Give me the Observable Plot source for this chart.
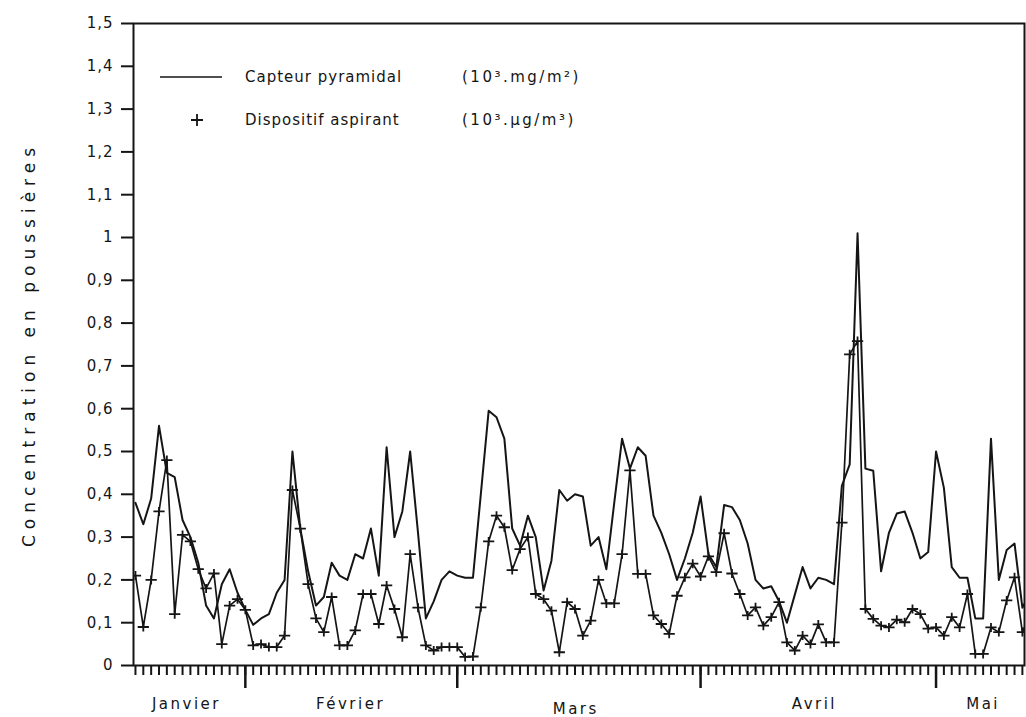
<!DOCTYPE html>
<html>
<head>
<meta charset="utf-8">
<script src="https://cdn.jsdelivr.net/npm/d3@7"></script>
<script src="https://cdn.jsdelivr.net/npm/@observablehq/plot@0.6"></script>
<style>
  body { margin: 0; background: #fff; }
  #chart svg { display: block; }
</style>
</head>
<body>
<div id="chart"></div>
<script>
// x = daily sample number (one tick per sample); 0 = first sample, mid-January.
const xDomain = [-0.25, 113.27];

// Capteur pyramidal (10^3 mg/m2)
const capteur = [
  0.38, 0.33, 0.39, 0.56, 0.45, 0.44, 0.34, 0.30, 0.24, 0.14,
  0.11, 0.19, 0.225, 0.17, 0.13, 0.095, 0.11, 0.12, 0.17, 0.20,
  0.50, 0.32, 0.22, 0.14, 0.16, 0.24, 0.21, 0.20, 0.26, 0.25,
  0.32, 0.21, 0.51, 0.30, 0.36, 0.50, 0.31, 0.11, 0.15, 0.20,
  0.22, 0.21, 0.205, 0.205, 0.40, 0.595, 0.58, 0.53, 0.32, 0.28,
  0.35, 0.30, 0.175, 0.245, 0.41, 0.385, 0.40, 0.395, 0.28, 0.30,
  0.225, 0.38, 0.53, 0.46, 0.51, 0.49, 0.35, 0.31, 0.26, 0.20,
  0.25, 0.31, 0.395, 0.26, 0.23, 0.375, 0.37, 0.34, 0.285, 0.20,
  0.18, 0.185, 0.15, 0.10, 0.165, 0.23, 0.18, 0.205, 0.20, 0.19,
  0.42, 0.47, 1.01, 0.46, 0.455, 0.22, 0.31, 0.355, 0.36, 0.31,
  0.25, 0.265, 0.50, 0.415, 0.23, 0.205, 0.205, 0.11, 0.11, 0.53,
  0.20, 0.27, 0.285, 0.135, 0.17
];

// Dispositif aspirant (10^3 µg/m3)
const dispositif = [
  0.21, 0.09, 0.20, 0.36, 0.48, 0.12, 0.305, 0.29, 0.225, 0.18,
  0.215, 0.05, 0.14, 0.155, 0.13, 0.047, 0.05, 0.043, 0.043, 0.07,
  0.41, 0.32, 0.19, 0.11, 0.078, 0.16, 0.047, 0.047, 0.082, 0.167,
  0.167, 0.097, 0.187, 0.132, 0.066, 0.26, 0.135, 0.047, 0.035, 0.043,
  0.043, 0.043, 0.02, 0.021, 0.136, 0.29, 0.35, 0.323, 0.223, 0.272,
  0.30, 0.167, 0.155, 0.128, 0.031, 0.148, 0.132, 0.07, 0.105, 0.20,
  0.145, 0.145, 0.26, 0.456, 0.214, 0.214, 0.117, 0.097, 0.074, 0.163,
  0.206, 0.238, 0.208, 0.255, 0.218, 0.309, 0.215, 0.167, 0.117, 0.136,
  0.093, 0.113, 0.148, 0.054, 0.035, 0.07, 0.05, 0.096, 0.054, 0.054,
  0.334, 0.727, 0.758, 0.132, 0.109, 0.093, 0.089, 0.107, 0.101, 0.132,
  0.12, 0.086, 0.089, 0.07, 0.113, 0.089, 0.167, 0.027, 0.027, 0.089,
  0.078, 0.152, 0.206, 0.078, 0.12
];

const monthTicks = [14, 41, 72, 102];          // first sample of Février, Mars, Avril, Mai
const monthNames = ["Janvier", "Février", "Mars", "Avril", "Mai"];
const monthLabelPos = [6.5, 27.4, 56.1, 86.5, 108];
const yTicks = d3.range(0, 16).map(k => k / 10);
const sampleTicks = d3.range(0, 114);
const yLabel = "Concentration en poussières";
const legendNames = ["Capteur pyramidal", "Dispositif aspirant"];
const legendUnits = ["(10³.mg/m²)", "(10³.µg/m³)"];

const rowsC = capteur.map((v, i) => ({s: i, v}));
const rowsD = dispositif.map((v, i) => ({s: i, v}));

// "+" marker drawn as two strokes
const plusSymbol = {
  draw(ctx, size) {
    const r = Math.sqrt(size / Math.PI);
    ctx.moveTo(-r * 1.25, 0); ctx.lineTo(r * 1.25, 0);
    ctx.moveTo(0, -r); ctx.lineTo(0, r);
  }
};

const ink = "#151515";
const font = "DejaVu Sans";

const chart = Plot.plot({
  width: 1026,
  height: 717,
  marginLeft: 133,
  marginRight: 2,
  marginTop: 23,
  marginBottom: 52,
  style: {fontFamily: font, fontSize: "15px", color: ink, background: "#fff"},
  x: {domain: xDomain},
  y: {domain: [0, 1.5]},
  marks: [
    Plot.frame({stroke: ink, strokeWidth: 2}),
    Plot.axisY({ticks: yTicks, tickSize: 12, tickPadding: 8, strokeWidth: 2,
      tickFormat: v => String(v).replace(".", ","), label: null}),
    Plot.axisX({ticks: sampleTicks, tickSize: 10, strokeWidth: 2, tickFormat: () => "", label: null}),
    Plot.axisX({ticks: monthTicks, tickSize: 23, strokeWidth: 2.5, tickFormat: () => "", label: null}),
    Plot.axisX({ticks: monthLabelPos, tickSize: 0, tickPadding: 33,
      tickFormat: d => monthNames[monthLabelPos.indexOf(d)], label: null}),
    Plot.text([yLabel], {frameAnchor: "left", textAnchor: "middle", rotate: -90, dx: -104, fontSize: 17}),
    Plot.line(rowsC, {x: "s", y: "v", stroke: ink, strokeWidth: 2, clip: true}),
    Plot.line(rowsD, {x: "s", y: "v", stroke: ink, strokeWidth: 1.7, clip: true}),
    Plot.dot(rowsD, {x: "s", y: "v", symbol: plusSymbol, r: 4.5, stroke: ink, strokeWidth: 1.8, fill: "none", clip: true})
  ]
});

document.getElementById("chart").appendChild(chart);

const svg = d3.select(chart);
svg.selectAll("[aria-label='x-axis tick label'] text").attr("letter-spacing", "2.5px")
  .filter(function () { return this.textContent === "Mars"; })
  .attr("transform", function () { return (this.getAttribute("transform") || "") + " translate(0,5)"; });
svg.selectAll("[aria-label='y-axis tick label'] text").attr("letter-spacing", "1px");
svg.selectAll("[aria-label='text'] text").attr("letter-spacing", "6px");

// Legend inside the plot area
const lg = svg.append("g").attr("font-family", font).attr("font-size", 15).attr("fill", ink)
  .attr("text-anchor", "start");
lg.append("line").attr("x1", 160).attr("x2", 222).attr("y1", 77).attr("y2", 77)
  .attr("stroke", ink).attr("stroke-width", 1.5);
lg.append("path").attr("d", "M191,120h12M197,114v12").attr("stroke", ink).attr("stroke-width", 1.8);
[77, 120].forEach((y, i) => {
  lg.append("text").attr("x", 245).attr("y", y).attr("dy", "0.35em")
    .attr("letter-spacing", "1px").text(legendNames[i]);
  lg.append("text").attr("x", 462).attr("y", y).attr("dy", "0.35em")
    .attr("letter-spacing", "2.5px").text(legendUnits[i]);
});
</script>
</body>
</html>
